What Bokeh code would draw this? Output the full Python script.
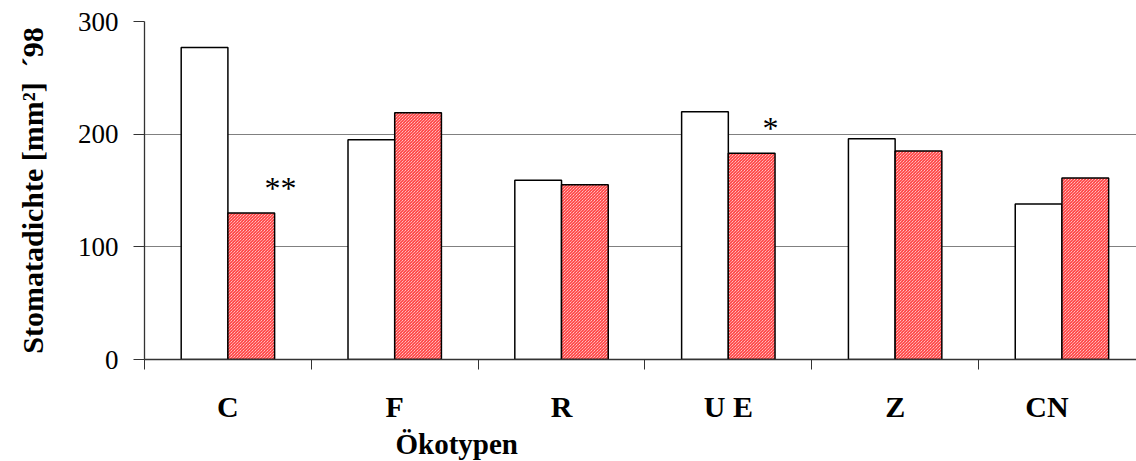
from bokeh.plotting import figure
from bokeh.models import FixedTicker, Range1d, Title, ColumnDataSource
from bokeh.core.properties import value
from bokeh.embed import file_html
from bokeh.resources import INLINE

categories = ["C", "F", "R", "U E", "Z", "CN"]
series_white = [277, 195, 159, 220, 196, 138]
series_red = [130, 219, 155, 183, 185, 161]
sig_labels = ["**", "", "", "*", "", ""]
sig_dx = [0.315, 0, 0, 0.253, 0, 0]
y_ticks = [0, 100, 200, 300]

n = len(categories)
centers = [i + 0.5 for i in range(n)]
bw = 0.28
NB = "\u00a0"

p = figure(width=1136, height=461, output_backend="svg", toolbar_location=None,
           x_range=Range1d(0, 5.947), y_range=Range1d(0, 300),
           min_border_left=144, min_border_right=0, min_border_top=21, min_border_bottom=102)
p.outline_line_color = None
p.background_fill_color = "white"

src = ColumnDataSource(dict(
    xw=[c - bw / 2 for c in centers], xr=[c + bw / 2 for c in centers],
    w=series_white, r=series_red))
p.vbar(x="xw", top="w", bottom=0, width=bw, source=src, fill_color="white",
       line_color="black", line_width=1.5)
p.vbar(x="xr", top="r", bottom=0, width=bw, source=src, fill_color="white",
       hatch_pattern="\\", hatch_color="#ff1010", hatch_scale=3.0, hatch_weight=1.0,
       line_color="black", line_width=1.5)

sx = [c + d for c, d in zip(centers, sig_dx)]
p.text(x=sx, y=series_red, text=sig_labels, text_font=value("Liberation Serif"),
       text_font_size="32px", text_align="center", text_baseline="bottom",
       y_offset=-7, text_color="black")

p.xgrid.grid_line_color = None
p.ygrid.grid_line_color = "#808080"
p.ygrid.grid_line_width = 1.2
p.ygrid.ticker = FixedTicker(ticks=y_ticks)

ya = p.yaxis[0]
ya.ticker = FixedTicker(ticks=y_ticks)
ya.axis_line_color = "#333333"
ya.axis_line_width = 1.3
ya.major_tick_line_color = "#333333"
ya.major_tick_out = 11
ya.major_tick_in = 0
ya.minor_tick_line_color = None
ya.major_label_text_font = "Liberation Serif"
ya.major_label_text_font_size = "27px"
ya.major_label_text_color = "black"
ya.major_label_standoff = 15
ya.axis_label = "Stomatadichte" + NB + "[mm²]" + NB * 2 + "´98"
ya.axis_label_text_font = "Liberation Serif"
ya.axis_label_text_font_style = "bold"
ya.axis_label_text_font_size = "30px"
ya.axis_label_text_color = "black"
ya.axis_label_standoff = 26

xa = p.xaxis[0]
xa.ticker = FixedTicker(ticks=centers, minor_ticks=list(range(n + 1)))
xa.major_label_overrides = {c: (lab if lab != "CN" else "CN" + NB * 4)
                            for c, lab in zip(centers, categories)}
xa.axis_line_color = "#333333"
xa.axis_line_width = 1.3
xa.major_tick_line_color = None
xa.minor_tick_line_color = "#333333"
xa.minor_tick_out = 10
xa.minor_tick_in = 0
xa.major_label_text_font = "Liberation Serif"
xa.major_label_text_font_style = "bold"
xa.major_label_text_font_size = "30px"
xa.major_label_text_color = "black"
xa.major_label_standoff = 20

p.add_layout(Title(text="Ökotypen", align="left", offset=251, standoff=0,
                   text_font="Liberation Serif", text_font_style="bold",
                   text_font_size="29px", text_color="black"), "below")

open("out.html", "w").write(file_html(p, INLINE))
